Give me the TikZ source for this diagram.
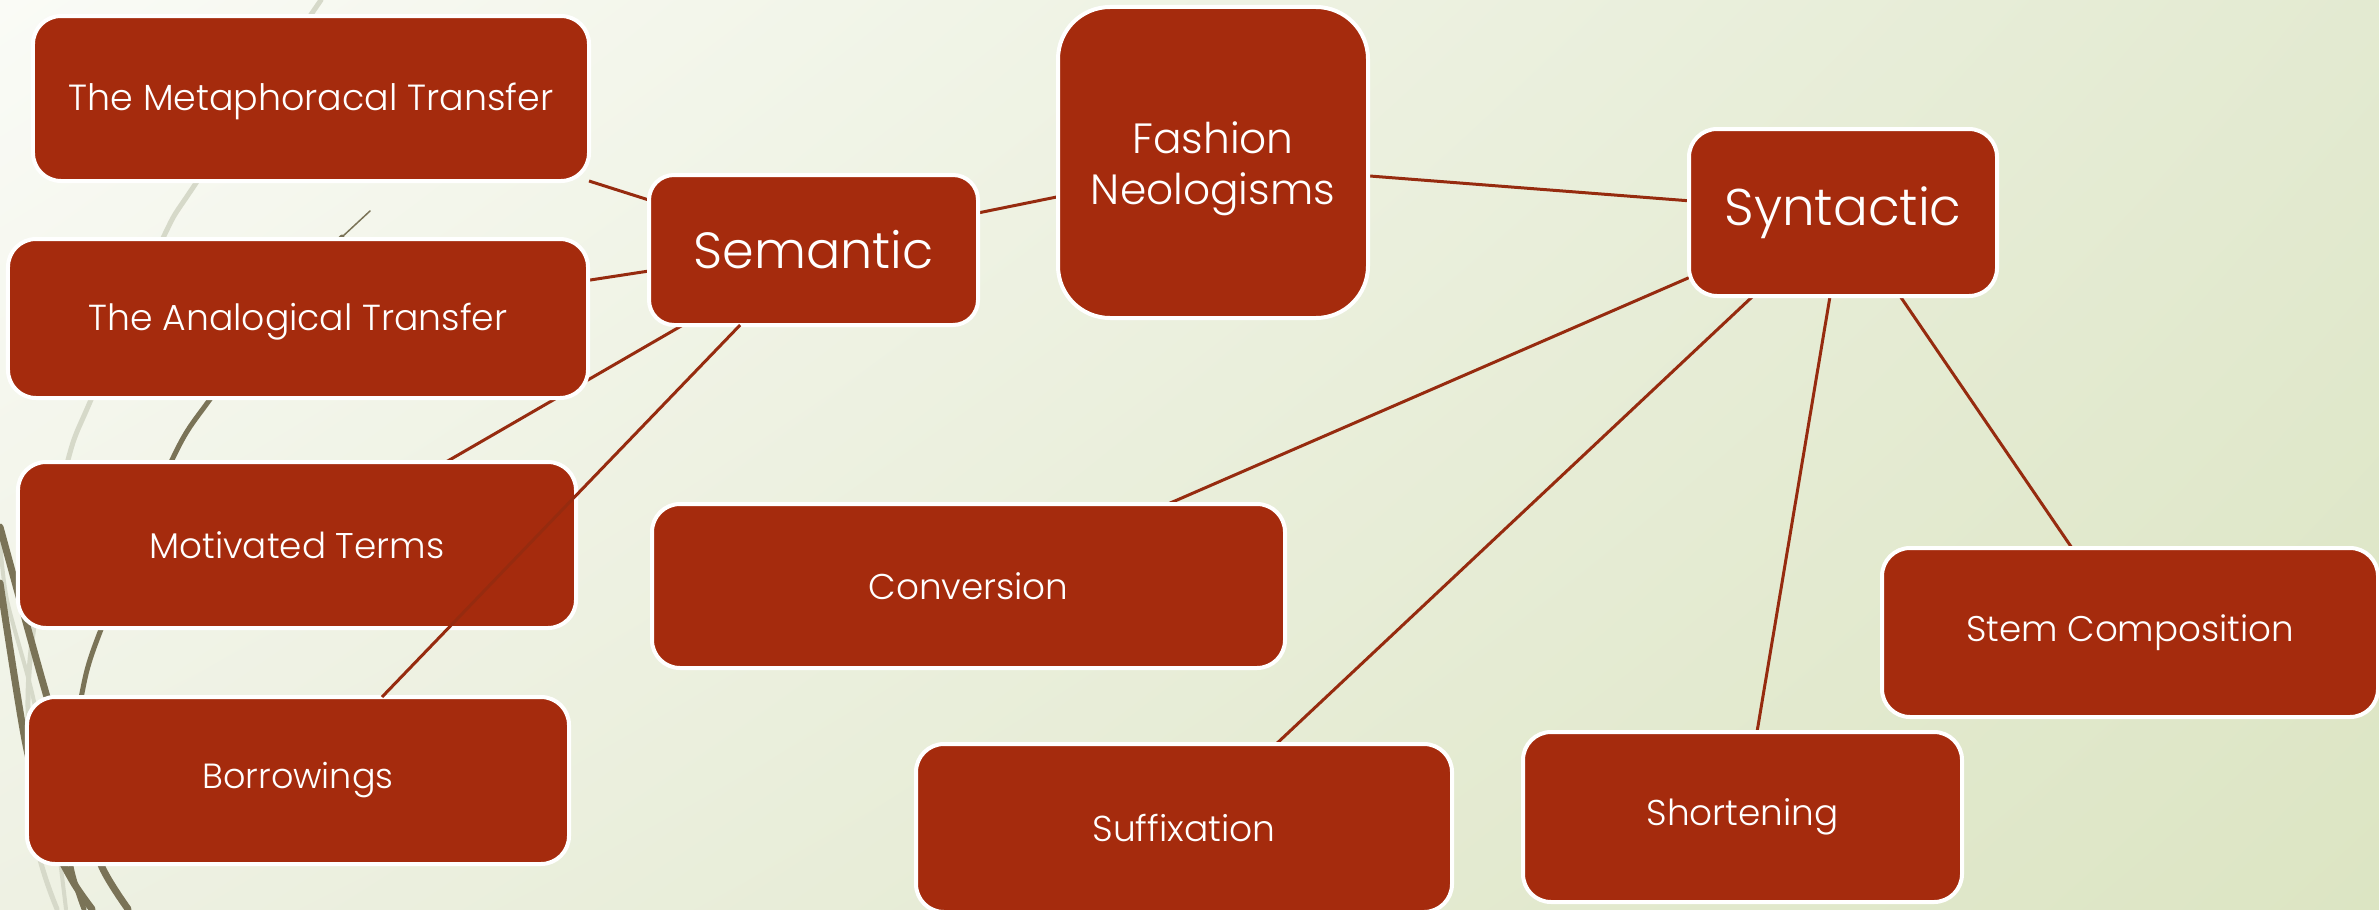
\documentclass[tikz,border=0pt]{standalone}
\usepackage{fontspec}
\setmainfont{Poppins}[UprightFont={* Light}]
\usetikzlibrary{calc,shadings}
\definecolor{boxred}{HTML}{A52B0D}
\definecolor{linered}{HTML}{962B0F}
\definecolor{wispolive}{HTML}{7A7357}
\definecolor{wispgrey}{HTML}{D6D9C9}
\definecolor{bgTL}{HTML}{FAFBF6}
\definecolor{bgTR}{HTML}{E3EAD1}
\definecolor{bgBL}{HTML}{EEF1E3}
\definecolor{bgBR}{HTML}{DCE5C3}
\newcommand\fitw[2]{\resizebox{#1bp}{!}{#2}}
\newcommand\lowerby[2]{\raisebox{-#1bp}[\height][\depth]{#2}}
\pgfdeclarelayer{bglayer}
\pgfdeclarelayer{lineslayer}
\pgfsetlayers{bglayer,lineslayer,main}
\tikzset{
  box/.style={draw=white, line width=4bp, fill=boxred, rounded corners=28bp,
    text=white, inner sep=0pt, outer sep=0pt, align=center},
  conn/.style={draw=linered, line width=3bp},
  wispo/.style={draw=wispolive, line cap=round},
  wispg/.style={draw=wispgrey, line cap=round},
}
\begin{document}
\begin{tikzpicture}[x=1bp,y=-1bp]
\useasboundingbox (0,0) rectangle (2379,909);

% nodes
\node[box, minimum width=556bp, minimum height=165bp] (meta) at (311,98.5) {\lowerby{3}{\fitw{485}{The Metaphoracal Transfer}}};
\node[box, minimum width=580bp, minimum height=159bp] (analog) at (298,318.5) {\lowerby{3}{\fitw{419}{The Analogical Transfer}}};
\node[box, minimum width=558bp, minimum height=166bp] (motiv) at (297,545) {\fitw{295}{Motivated Terms}};
\node[box, minimum width=542bp, minimum height=167bp] (borrow) at (298,780.5) {\fitw{191}{Borrowings}};
\node[box, rounded corners=25bp, minimum width=329bp, minimum height=150bp] (sem) at (813.5,250) {\fitw{240}{Semantic}};
\node[box, rounded corners=52bp, minimum width=310bp, minimum height=311bp] (fashion) at (1213,162.5) {\lowerby{6}{\fitw{244}{\begin{tabular}{@{}c@{}}Fashion\\[0pt]Neologisms\end{tabular}}}};
\node[box, minimum width=308bp, minimum height=167bp] (syn) at (1843,212.5) {\fitw{237}{Syntactic}};
\node[box, minimum width=633bp, minimum height=164bp] (conv) at (968.5,586) {\fitw{200}{Conversion}};
\node[box, minimum width=536bp, minimum height=168bp] (suffix) at (1184,828) {\fitw{183}{Suffixation}};
\node[box, minimum width=439bp, minimum height=170bp] (short) at (1742.5,817) {\fitw{192}{Shortening}};
\node[box, minimum width=496bp, minimum height=169bp] (stem) at (2130,632.5) {\fitw{328}{Stem Composition}};

% background and decorative wisps
\begin{pgfonlayer}{bglayer}
\shade[upper left=bgTL, upper right=bgTR, lower left=bgBL, lower right=bgBR] (0,0) rectangle (2379,909);
\draw[wispg, line width=5bp] plot[smooth] coordinates {(321,0) (194,186) (163,238) (90,402) (68,460) (38,600) (28,700) (36,840) (57,909)};
\draw[wispg, line width=4bp] plot[smooth] coordinates {(0,540) (7,600) (33,697) (52,800) (66,909)};
\draw[wispo, line width=1.5bp] (370,211) -- (342,237);
\draw[wispo, line width=5bp] plot[smooth] coordinates {(342,237) (280,310) (208,402) (172,460) (100,632) (82,693) (70,780) (70,860) (84,909)};
\draw[wispo, line width=7bp] plot[smooth] coordinates {(0,527) (47,697) (80,800) (102,867) (128,909)};
\draw[wispo, line width=7bp] plot[smooth] coordinates {(0,583) (25,740) (48,830) (72,880) (92,909)};
\end{pgfonlayer}

% connectors
\begin{pgfonlayer}{lineslayer}
\draw[conn] (meta.south east) -- ($(sem.north west)!0.167!(sem.south west)$);
\draw[conn] ($(analog.north east)!0.26!(analog.south east)$) -- ($(sem.north west)!0.64!(sem.south west)$);
\draw[conn] ($(sem.south west)!0.103!(sem.south east)$) -- ($(motiv.north west)!0.767!(motiv.north east)$);
\draw[conn] ($(sem.north east)!0.253!(sem.south east)$) -- ($(fashion.north west)!0.61!(fashion.south west)$);
\draw[conn] ($(fashion.north east)!0.543!(fashion.south east)$) -- ($(syn.north west)!0.43!(syn.south west)$);
\draw[conn] ($(syn.north west)!0.89!(syn.south west)$) -- ($(conv.north west)!0.815!(conv.north east)$);
\draw[conn] ($(syn.south west)!0.208!(syn.south east)$) -- ($(suffix.north west)!0.672!(suffix.north east)$);
\draw[conn] ($(syn.south west)!0.458!(syn.south east)$) -- ($(short.north west)!0.533!(short.north east)$);
\draw[conn] ($(syn.south west)!0.685!(syn.south east)$) -- ($(stem.north west)!0.383!(stem.north east)$);
\end{pgfonlayer}

% this connector runs over the Motivated Terms box
\draw[conn] ($(sem.south west)!0.277!(sem.south east)$) -- ($(borrow.north west)!0.655!(borrow.north east)$);
\end{tikzpicture}
\end{document}
